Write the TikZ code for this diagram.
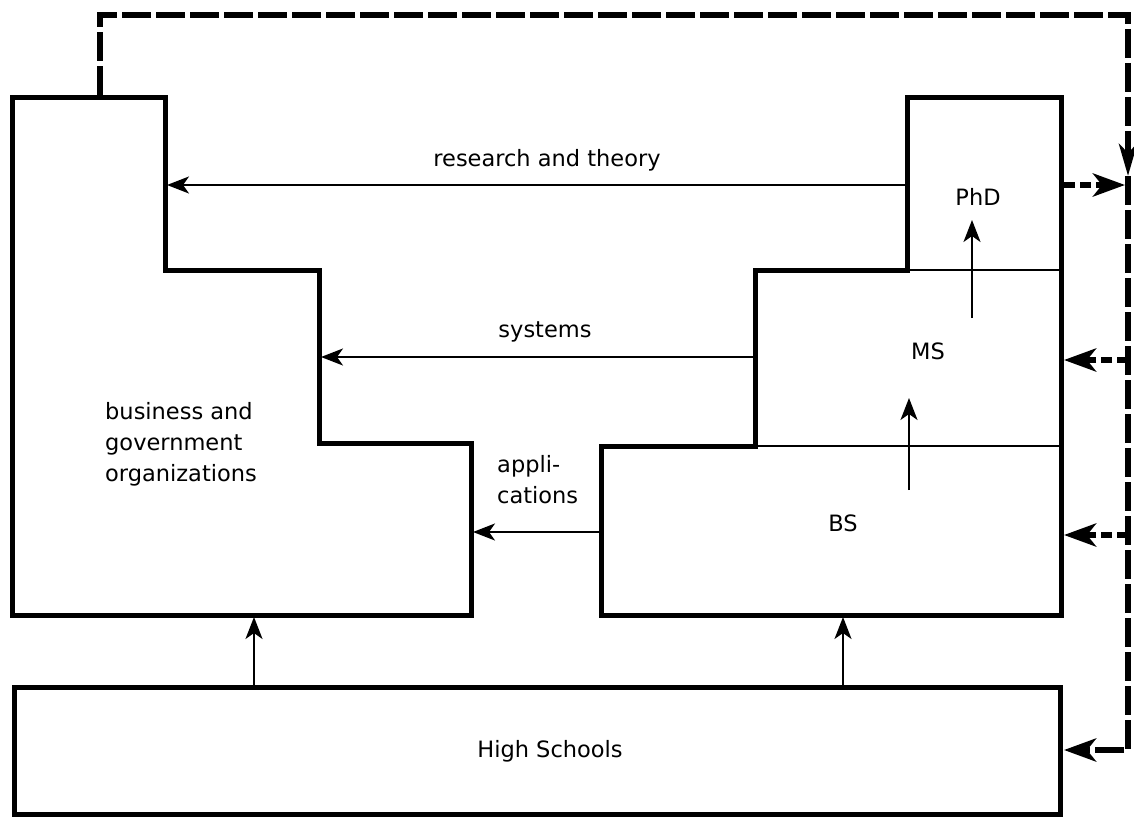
\documentclass[tikz,border=0pt]{standalone}
\usepackage{fontspec}
\setmainfont{DejaVu Sans}
\usetikzlibrary{arrows.meta}
\begin{document}
\begin{tikzpicture}[x=1pt,y=-1pt,
  outline/.style={line width=5pt, line join=miter},
  thinline/.style={line width=2pt},
  conn/.style={line width=2.2pt, -{Stealth[length=22pt,width=17pt,inset=6pt]}},
  fb/.style={line width=6.5pt, line join=miter, dash pattern=on 29pt off 5pt},
  fbdown/.style={fb, -{Stealth[length=32pt,width=18pt,inset=9pt]}},
  fbbranch/.style={line width=6.5pt, dash pattern=on 11pt off 5pt, -{Stealth[length=32pt,width=23pt,inset=9pt]}},
  lbl/.style={font=\fontsize{22.5}{31}\selectfont, inner sep=0pt, anchor=base}]
\useasboundingbox (0,0) rectangle (1134,816);
% left organisation shape
\draw[outline] (12,97) -- (165,97) -- (165,270) -- (319,270) -- (319,443) -- (471,443) -- (471,615) -- (12,615) -- cycle;
% right university shape
\draw[outline] (907,97) -- (1061,97) -- (1061,615) -- (601,615) -- (601,446) -- (755,446) -- (755,270) -- (907,270) -- cycle;
\draw[thinline] (907,270) -- (1061,270);
\draw[thinline] (755,446) -- (1061,446);
% high schools
\node[draw, line width=5pt, minimum width=1046pt, minimum height=127pt, inner sep=0pt, anchor=north west] (hs) at (12,685) {};
\node[lbl] (hst) at (550,757) {High Schools};
% labels
\node[lbl] (phd) at (978,205) {PhD};
\node[lbl] (ms) at (928,359) {MS};
\node[lbl] (bs) at (843,531) {BS};
\node[lbl] (rt) at (547,166) {research and theory};
\node[lbl] (sys) at (545,337) {systems};
\node[lbl, align=left, anchor=north west] (app) at (497,455) {appli-\\cations};
\node[lbl, align=left, anchor=north west] (bgo) at (105,402) {business and\\government\\organizations};
% coordinates for connectors
\coordinate (rA) at (907,185); \coordinate (rB) at (167,185);
\coordinate (sA) at (755,357); \coordinate (sB) at (321,357);
\coordinate (aA) at (601,532); \coordinate (aB) at (473,532);
\coordinate (h1) at (254,685); \coordinate (o1) at (254,617);
\coordinate (h2) at (843,685); \coordinate (b2) at (843,617);
\coordinate (m1) at (972,318); \coordinate (p1) at (972,220);
\coordinate (bb) at (909,490); \coordinate (mm) at (909,398);
\draw[conn] (rA) -- (rB);
\draw[conn] (sA) -- (sB);
\draw[conn] (aA) -- (aB);
\draw[conn] (h1) -- (o1);
\draw[conn] (h2) -- (b2);
\draw[conn] (m1) -- (p1);
\draw[conn] (bb) -- (mm);
% feedback loop
\coordinate (f0) at (100,95);
\coordinate (f1) at (100,15);
\coordinate (f2) at (1128,15);
\coordinate (f3) at (1128,176);
\coordinate (f4) at (1128,750);
\coordinate (fh) at (1064,750);
\coordinate (pA) at (1064,185); \coordinate (pB) at (1125,185);
\coordinate (mA) at (1128,360); \coordinate (mB) at (1064,360);
\coordinate (bA) at (1128,535); \coordinate (bB) at (1064,535);
\draw[fbdown] (f0) -- (f1) -- (f2) -- (f3);
\draw[fb, -{Stealth[length=32pt,width=23pt,inset=9pt]}] (f3) -- (f4) -- (fh);
\draw[fbbranch] (pA) -- (pB);
\draw[fbbranch] (mA) -- (mB);
\draw[fbbranch] (bA) -- (bB);
\end{tikzpicture}
\end{document}
